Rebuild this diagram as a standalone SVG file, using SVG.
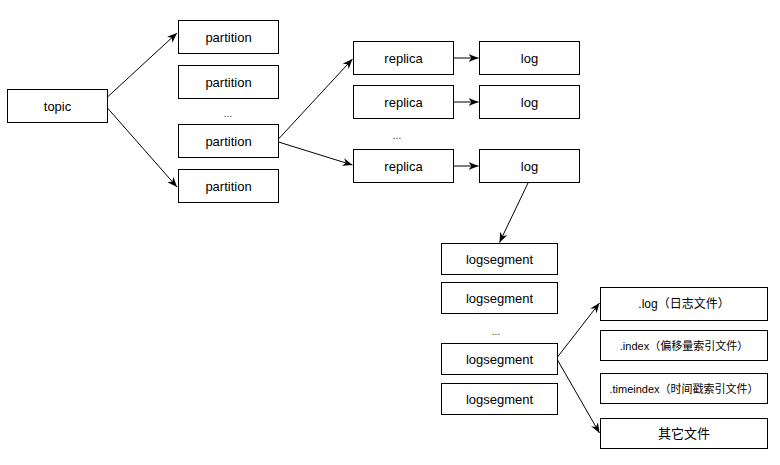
<svg xmlns="http://www.w3.org/2000/svg" width="780" height="465" viewBox="0 0 780 465">
<style>
.box{fill:#fff;stroke:#000;stroke-width:1}
.t{font-family:"Liberation Sans","Noto Sans CJK SC",Arial,sans-serif;font-size:13px;fill:#000;text-anchor:middle;dominant-baseline:central}
.s11{font-size:11px}
.s12{font-size:12px}
.dots{font-family:"Liberation Sans",Arial,sans-serif;font-size:10px;fill:#333;text-anchor:middle}
.c{fill:none;stroke:#000;stroke-width:1}
</style>
<defs>
<marker id="ah" markerUnits="userSpaceOnUse" markerWidth="10" markerHeight="8" refX="10" refY="4" orient="auto" viewBox="0 0 10 8">
<path d="M0,0 L10,4 L0,8 L3,4 z" fill="#000"/>
</marker>
</defs>
<rect width="780" height="465" fill="#fff"/>
<g id="connectors">
<path class="c" d="M107.5,97 L177,33" marker-end="url(#ah)"/>
<path class="c" d="M107.5,108 L177,187" marker-end="url(#ah)"/>
<path class="c" d="M278.5,139 L352.5,59" marker-end="url(#ah)"/>
<path class="c" d="M278.5,142 L352.5,165" marker-end="url(#ah)"/>
<path class="c" d="M453.5,58 L478.5,58" marker-end="url(#ah)"/>
<path class="c" d="M453.5,102 L478.5,102" marker-end="url(#ah)"/>
<path class="c" d="M453.5,166 L478.5,166" marker-end="url(#ah)"/>
<path class="c" d="M528,183 L499.5,242.5" marker-end="url(#ah)"/>
<path class="c" d="M557.5,357 L599.5,303" marker-end="url(#ah)"/>
<path class="c" d="M557.5,360 L599.5,433" marker-end="url(#ah)"/>
</g>
<g id="topic"><rect class="box" x="7.5" y="89.5" width="100" height="33"/><text class="t" x="57.5" y="106">topic</text></g>
<g id="partition1"><rect class="box" x="178.5" y="20.5" width="100" height="33"/><text class="t" x="228.5" y="37">partition</text></g>
<g id="partition2"><rect class="box" x="178.5" y="65.5" width="100" height="33"/><text class="t" x="228.5" y="82">partition</text></g>
<text class="dots" x="228" y="117">...</text>
<g id="partition3"><rect class="box" x="178.5" y="124.5" width="100" height="33"/><text class="t" x="228.5" y="141">partition</text></g>
<g id="partition4"><rect class="box" x="178.5" y="169.5" width="100" height="33"/><text class="t" x="228.5" y="186">partition</text></g>
<g id="replica1"><rect class="box" x="353.5" y="41.5" width="100" height="33"/><text class="t" x="403.5" y="58">replica</text></g>
<g id="replica2"><rect class="box" x="353.5" y="85.5" width="100" height="33"/><text class="t" x="403.5" y="102">replica</text></g>
<text class="dots" x="397" y="139">...</text>
<g id="replica3"><rect class="box" x="353.5" y="149.5" width="100" height="33"/><text class="t" x="403.5" y="166">replica</text></g>
<g id="log1"><rect class="box" x="479.5" y="41.5" width="100" height="33"/><text class="t" x="529.5" y="58">log</text></g>
<g id="log2"><rect class="box" x="479.5" y="85.5" width="100" height="33"/><text class="t" x="529.5" y="102">log</text></g>
<g id="log3"><rect class="box" x="479.5" y="149.5" width="100" height="33"/><text class="t" x="529.5" y="166">log</text></g>
<g id="logsegment1"><rect class="box" x="441.5" y="243.5" width="116" height="31"/><text class="t" x="499.5" y="259">logsegment</text></g>
<g id="logsegment2"><rect class="box" x="441.5" y="282.5" width="116" height="31"/><text class="t" x="499.5" y="298">logsegment</text></g>
<text class="dots" x="496" y="335">...</text>
<g id="logsegment3"><rect class="box" x="441.5" y="343.5" width="116" height="31"/><text class="t" x="499.5" y="359">logsegment</text></g>
<g id="logsegment4"><rect class="box" x="441.5" y="383.5" width="116" height="31"/><text class="t" x="499.5" y="399">logsegment</text></g>
<g id="file-log"><rect class="box" x="600.5" y="287.5" width="167" height="33"/><text class="t s12" x="684" y="304">.log（日志文件）</text></g>
<g id="file-index"><rect class="box" x="600.5" y="330.5" width="167" height="30"/><text class="t s11" x="684" y="345.5">.index（偏移量索引文件）</text></g>
<g id="file-timeindex"><rect class="box" x="600.5" y="373.5" width="167" height="30"/><text class="t s11" x="684" y="388.5">.timeindex（时间戳索引文件）</text></g>
<g id="file-other"><rect class="box" x="600.5" y="418.5" width="167" height="30"/><text class="t" x="684" y="433.5">其它文件</text></g>
</svg>
